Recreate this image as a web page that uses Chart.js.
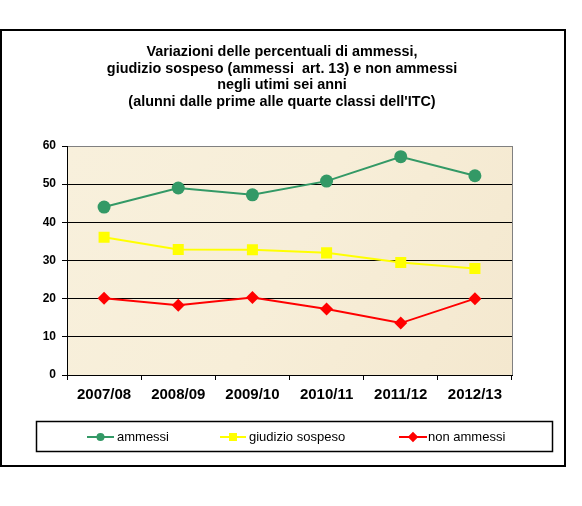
<!DOCTYPE html>
<html>
<head>
<meta charset="utf-8">
<script src="https://cdn.jsdelivr.net/npm/chart.js@4/dist/chart.umd.min.js"></script>
<style>
  body { margin: 0; background: #fff; }
  #grafico { position: absolute; left: 0; top: 0; }
</style>
</head>
<body>
<canvas id="grafico" width="582" height="506"></canvas>
<script>
// dati
const anni = ['2007/08', '2008/09', '2009/10', '2010/11', '2011/12', '2012/13'];
const ammessi = [44.0, 49.0, 47.2, 50.8, 57.2, 52.2];
const giudizioSospeso = [36.1, 32.9, 32.8, 32.0, 29.5, 27.9];
const nonAmmessi = [20.1, 18.3, 20.3, 17.3, 13.6, 20.0];
const titolo = [
    'Variazioni delle percentuali di ammessi,',
    'giudizio sospeso (ammessi  art. 13) e non ammessi',
    'negli utimi sei anni',
    "(alunni dalle prime alle quarte classi dell'ITC)"
];
const etichetteY = [0, 10, 20, 30, 40, 50, 60];

const FONT = "'Liberation Sans', Arial, sans-serif";

// posizioni della legenda (x linea, x testo)
const posLegenda = [
    { x1: 87, x2: 114, xt: 117, r: 3 },
    { x1: 220, x2: 246, xt: 249, r: 4.2 },
    { x1: 399, x2: 427, xt: 428, r: 3.8 }
];

const cornice = {
    id: 'cornice',
    beforeDraw(chart) {
        const ctx = chart.ctx;
        const a = chart.chartArea;
        ctx.save();
        // sfondo area del grafico
        const g = ctx.createLinearGradient(a.left, a.top, a.right, a.bottom);
        g.addColorStop(0, '#f8f0dc');
        g.addColorStop(0.5, '#f7eed8');
        g.addColorStop(1, '#f4e8cf');
        ctx.fillStyle = g;
        ctx.fillRect(a.left, a.top, a.right - a.left, a.bottom - a.top);
        // bordo destro grigio
        ctx.strokeStyle = '#808080';
        ctx.lineWidth = 1;
        ctx.beginPath();
        ctx.moveTo(a.right + 0.5, a.top);
        ctx.lineTo(a.right + 0.5, a.bottom);
        ctx.stroke();
        ctx.restore();
    },
    afterDraw(chart) {
        const ctx = chart.ctx;
        ctx.save();
        // cornice esterna
        ctx.strokeStyle = '#000';
        ctx.lineWidth = 2;
        ctx.strokeRect(1, 30, 564, 436);

        // titolo
        ctx.fillStyle = '#000';
        ctx.font = 'bold 14.4px ' + FONT;
        ctx.textAlign = 'center';
        ctx.textBaseline = 'middle';
        titolo.forEach((riga, i) => ctx.fillText(riga, 282, 52 + i * 16.7));

        // legenda
        ctx.lineWidth = 1.5;
        ctx.strokeRect(36.5, 421.5, 516, 30);
        ctx.font = '13px ' + FONT;
        ctx.textAlign = 'left';
        const y = 437;
        chart.data.datasets.forEach((ds, i) => {
            const p = posLegenda[i];
            ctx.strokeStyle = ds.borderColor;
            ctx.lineWidth = 2;
            ctx.beginPath();
            ctx.moveTo(p.x1, y);
            ctx.lineTo(p.x2, y);
            ctx.stroke();
            ctx.fillStyle = ds.borderColor;
            ctx.beginPath();
            Chart.helpers.drawPoint(ctx, {
                pointStyle: ds.pointStyle, radius: p.r, borderWidth: 1, rotation: 0
            }, (p.x1 + p.x2) / 2, y);
            ctx.fill();
            ctx.fillStyle = '#000';
            ctx.fillText(ds.label, p.xt, y);
        });
        ctx.restore();
    }
};

new Chart(document.getElementById('grafico'), {
    type: 'line',
    data: {
        labels: anni,
        datasets: [
            {
                label: 'ammessi',
                data: ammessi,
                borderColor: '#339966',
                backgroundColor: '#339966',
                borderWidth: 2,
                pointStyle: 'circle',
                pointRadius: 6.5,
                pointBorderWidth: 0
            },
            {
                label: 'giudizio sospeso',
                data: giudizioSospeso,
                borderColor: '#ffff00',
                backgroundColor: '#ffff00',
                borderWidth: 2,
                pointStyle: 'rect',
                pointRadius: 7.8,
                pointBorderWidth: 0
            },
            {
                label: 'non ammessi',
                data: nonAmmessi,
                borderColor: '#ff0000',
                backgroundColor: '#ff0000',
                borderWidth: 2,
                pointStyle: 'rectRot',
                pointRadius: 6.5,
                pointBorderWidth: 0
            }
        ]
    },
    options: {
        responsive: false,
        animation: false,
        layout: { padding: { left: 10, right: 70, top: 146, bottom: 101 } },
        plugins: {
            legend: { display: false },
            title: { display: false },
            tooltip: { enabled: false }
        },
        scales: {
            x: {
                offset: true,
                grid: {
                    offset: true,
                    drawOnChartArea: false,
                    drawTicks: true,
                    tickLength: 5,
                    color: '#000'
                },
                border: { color: '#000', width: 1 },
                ticks: {
                    color: '#000',
                    padding: 6,
                    maxRotation: 0,
                    font: { family: FONT, size: 15, weight: 'bold' }
                },
                afterFit: s => { s.height = 30; }
            },
            y: {
                min: etichetteY[0],
                max: etichetteY[etichetteY.length - 1],
                afterBuildTicks: s => { s.ticks = etichetteY.map(v => ({ value: v })); },
                grid: {
                    color: c => (c.tick && c.tick.value === 60) ? '#808080' : '#000',
                    tickColor: '#000',
                    tickLength: 5,
                    lineWidth: 1
                },
                border: { color: '#000', width: 1 },
                ticks: {
                    color: '#000',
                    padding: 6,
                    font: { family: FONT, size: 12, weight: 'bold' }
                },
                afterFit: s => { s.width = 57; }
            }
        }
    },
    plugins: [cornice]
});
</script>
</body>
</html>
